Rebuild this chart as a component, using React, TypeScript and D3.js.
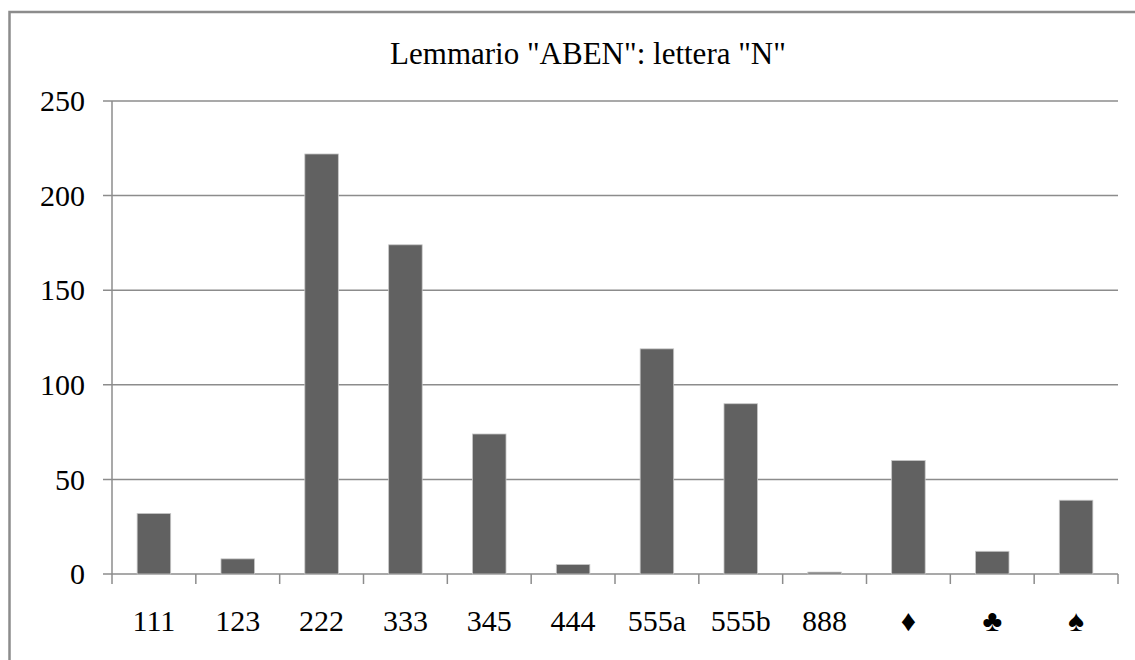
import { useEffect, useRef } from "react";
import * as d3 from "d3";

const categories = ["111", "123", "222", "333", "345", "444", "555a", "555b", "888", "♦", "♣", "♠"];
const counts = [32, 8, 222, 174, 74, 5, 119, 90, 1, 60, 12, 39];
const yTicks = [0, 50, 100, 150, 200, 250];
const title = 'Lemmario "ABEN": lettera "N"';

const W = 1135;
const H = 660;
const FONT = "'Liberation Serif', 'Times New Roman', Times, 'DejaVu Serif', serif";

export default function App() {
  const svgRef = useRef<SVGSVGElement>(null);

  useEffect(() => {
    const svg = d3.select(svgRef.current!);
    svg.selectAll("*").remove();

    const left = 112;
    const right = 1118;
    const top = 101;
    const bottom = 574;

    const x = d3.scaleBand<string>().domain(categories).range([left, right]).paddingInner(0.6).paddingOuter(0.3);
    const xb = d3.scaleBand<string>().domain(categories).range([left, right]);
    const y = d3.scaleLinear().domain([0, 250]).range([bottom, top]);

    // outer frame (runs off the right and bottom edges)
    svg.append("rect")
      .attr("x", 9.5).attr("y", 12)
      .attr("width", W + 20).attr("height", H + 20)
      .attr("fill", "white")
      .attr("stroke", "#8c8c8c").attr("stroke-width", 2.5);

    svg.append("text")
      .attr("x", 588).attr("y", 64)
      .attr("text-anchor", "middle")
      .style("font-family", FONT).style("font-size", "31px")
      .text(title);

    // gridlines + y ticks
    const grid = svg.append("g");
    grid.selectAll("line")
      .data(yTicks)
      .join("line")
      .attr("x1", left - 9).attr("x2", right)
      .attr("y1", (d) => y(d)).attr("y2", (d) => y(d))
      .attr("stroke", "#8c8c8c").attr("stroke-width", 1.5);

    grid.selectAll("text")
      .data(yTicks)
      .join("text")
      .attr("x", 85).attr("y", (d) => y(d))
      .attr("dy", "0.34em")
      .attr("text-anchor", "end")
      .style("font-family", FONT).style("font-size", "30px")
      .text((d) => d);

    // y axis line
    svg.append("line")
      .attr("x1", left).attr("x2", left)
      .attr("y1", top).attr("y2", bottom)
      .attr("stroke", "#8c8c8c").attr("stroke-width", 1.5);

    // x tick marks at band edges
    const edges = categories.map((c) => xb(c)!).concat([right]);
    svg.append("g").selectAll("line")
      .data(edges)
      .join("line")
      .attr("x1", (d) => d).attr("x2", (d) => d)
      .attr("y1", bottom).attr("y2", bottom + 10)
      .attr("stroke", "#8c8c8c").attr("stroke-width", 1.5);

    // bars
    svg.append("g").selectAll("rect")
      .data(categories.map((c, i) => ({ c, v: counts[i] })))
      .join("rect")
      .attr("x", (d) => x(d.c)!)
      .attr("y", (d) => y(d.v))
      .attr("width", x.bandwidth())
      .attr("height", (d) => y(0) - y(d.v))
      .attr("fill", "#616161")
      .attr("stroke", "#c8c8c8").attr("stroke-width", 0.8);

    // x labels
    svg.append("g").selectAll("text")
      .data(categories)
      .join("text")
      .attr("x", (d) => xb(d)! + xb.bandwidth() / 2)
      .attr("y", 631)
      .attr("text-anchor", "middle")
      .style("font-family", FONT).style("font-size", "30px")
      .text((d) => d);
  }, []);

  return (
    <svg
      ref={svgRef}
      width={W}
      height={H}
      style={{ position: "absolute", left: 0, top: 0, background: "white" }}
    />
  );
}
